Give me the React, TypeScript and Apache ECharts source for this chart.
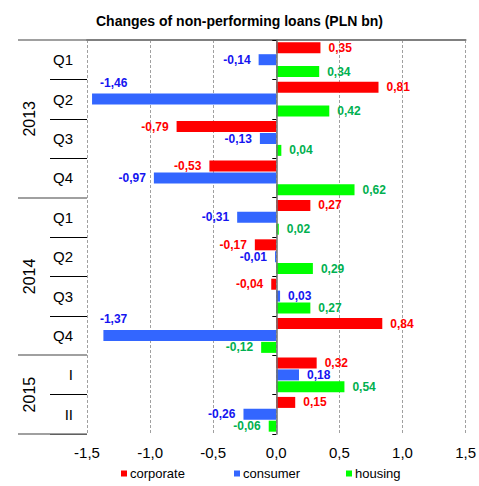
import React, { useEffect, useRef } from 'react';
import * as echarts from 'echarts';

const categories = ['Q1', 'Q2', 'Q3', 'Q4', 'Q1', 'Q2', 'Q3', 'Q4', 'I', 'II'];
const years = ['2013', '2014', '2015'];
const yearSpans = [4, 4, 2];
const seriesNames = ['corporate', 'consumer', 'housing'];
const corporate = [0.35, 0.81, -0.79, -0.53, 0.27, -0.17, -0.04, 0.84, 0.32, 0.15];
const consumer = [-0.14, -1.46, -0.13, -0.97, -0.31, -0.01, 0.03, -1.37, 0.18, -0.26];
const housing = [0.34, 0.42, 0.04, 0.62, 0.02, 0.29, 0.27, -0.12, 0.54, -0.06];
const xMin = -1.5;
const xMax = 1.5;
const xStep = 0.5;

const FONT = '"Liberation Sans", Arial, Helvetica, sans-serif';
const barColors = ['#FF0000', '#3366FF', '#00FF00'];
const labelColors = ['#FF0000', '#1414F0', '#00B050'];
const legendLefts = [121, 234, 346];

// manual label placement tweaks (series index -> data index -> label options)
const labelTweaks: Record<number, Record<number, any>> = {
  1: {
    1: { position: 'insideLeft', distance: 8, offset: [0, -16.5] },
    7: { position: 'insideLeft', distance: -3.5, offset: [0, -17] },
  },
};

const fmt2 = (v: number) => v.toFixed(2).replace('.', ',');
const fmt1 = (v: number) => v.toFixed(1).replace('.', ',');

export default function App() {
  const ref = useRef<HTMLDivElement>(null);
  useEffect(() => {
    if (!ref.current) return;
    const chart = echarts.init(ref.current, undefined, { renderer: 'svg' });

    const yearStarts = new Set<number>();
    const yearCenters: Record<number, string> = {};
    let acc = 0;
    yearSpans.forEach((s, i) => {
      yearStarts.add(acc);
      yearCenters[acc + s / 2] = years[i];
      acc += s;
    });

    const allValues = [corporate, consumer, housing];
    const series = allValues.map((vals, si) => ({
      name: seriesNames[si],
      type: 'bar',
      xAxisIndex: 0,
      yAxisIndex: 0,
      barWidth: 11,
      barGap: '8%',
      itemStyle: { color: barColors[si] },
      label: {
        show: true,
        distance: 8,
        color: labelColors[si],
        fontWeight: 'bold',
        fontSize: 12,
        fontFamily: FONT,
        formatter: (p: any) => fmt2(p.value),
      },
      data: vals.map((v, i) => ({
        value: v,
        label: {
          position: v < 0 ? 'left' : 'right',
          ...((labelTweaks[si] && labelTweaks[si][i]) || {}),
        },
      })),
    }));

    const legends = seriesNames.map((n, i) => ({
      data: [n],
      icon: 'rect',
      itemWidth: 6,
      itemHeight: 6,
      left: legendLefts[i],
      top: 467,
      padding: 0,
      textStyle: { fontSize: 13, color: '#000', fontFamily: FONT, padding: [0, 0, 0, -2] },
    }));

    chart.setOption({
      animation: false,
      title: {
        text: 'Changes of non-performing loans (PLN bn)',
        left: 'center',
        top: 9,
        textStyle: { fontSize: 14, fontWeight: 'bold', color: '#000', fontFamily: FONT },
      },
      legend: legends,
      grid: { left: 87, right: 11, top: 40, bottom: 52, containLabel: false },
      xAxis: [
        {
          type: 'value',
          min: xMin,
          max: xMax,
          interval: xStep,
          position: 'bottom',
          axisLine: { show: false, onZero: false },
          axisTick: { show: false },
          splitLine: { show: true, lineStyle: { type: [3, 2], color: '#a0a0a0', width: 1 } },
          axisLabel: { formatter: (v: number) => fmt1(v), fontSize: 15, margin: 11, color: '#000', fontFamily: FONT },
        },
        {
          type: 'value',
          min: xMin,
          max: xMax,
          interval: xStep,
          position: 'top',
          axisLine: { show: true, onZero: false, lineStyle: { color: '#808080', width: 2 } },
          axisTick: { show: false },
          axisLabel: { show: false },
          splitLine: { show: false },
        },
      ],
      yAxis: [
        {
          type: 'category',
          data: categories,
          inverse: true,
          z: 5,
          axisLine: { show: true, onZero: true, onZeroAxisIndex: 0, lineStyle: { color: '#707070', width: 1.5 } },
          axisTick: { show: true, length: 4, lineStyle: { color: '#000', width: 1 } },
          axisLabel: { show: false },
          splitLine: { show: false },
        },
        {
          type: 'category',
          data: categories,
          inverse: true,
          position: 'left',
          axisLine: { show: false, onZero: false },
          axisTick: {
            show: true,
            length: 37,
            interval: (i: number) => !yearStarts.has(i),
            lineStyle: { color: '#000', width: 1 },
          },
          axisLabel: { show: true, interval: 0, margin: 14, fontSize: 15, color: '#000', fontFamily: FONT },
          splitLine: { show: false },
        },
        {
          type: 'category',
          data: categories,
          inverse: true,
          position: 'left',
          axisLine: { show: false, onZero: false },
          axisTick: {
            show: true,
            length: 69,
            interval: (i: number) => yearStarts.has(i),
            lineStyle: { color: '#808080', width: 1.5 },
          },
          axisLabel: { show: false },
          splitLine: { show: false },
        },
        {
          type: 'value',
          min: 0,
          max: categories.length,
          interval: 1,
          inverse: true,
          position: 'left',
          axisLine: { show: false, onZero: false },
          axisTick: { show: false },
          splitLine: { show: false },
          axisLabel: {
            formatter: (v: number) => yearCenters[v] || '',
            rotate: 90,
            margin: 50,
            fontSize: 16,
            color: '#000',
            fontFamily: FONT,
          },
        },
      ],
      series,
    });
    return () => chart.dispose();
  }, []);
  return <div ref={ref} style={{ position: 'absolute', left: 0, top: 0, width: 479, height: 486 }} />;
}
